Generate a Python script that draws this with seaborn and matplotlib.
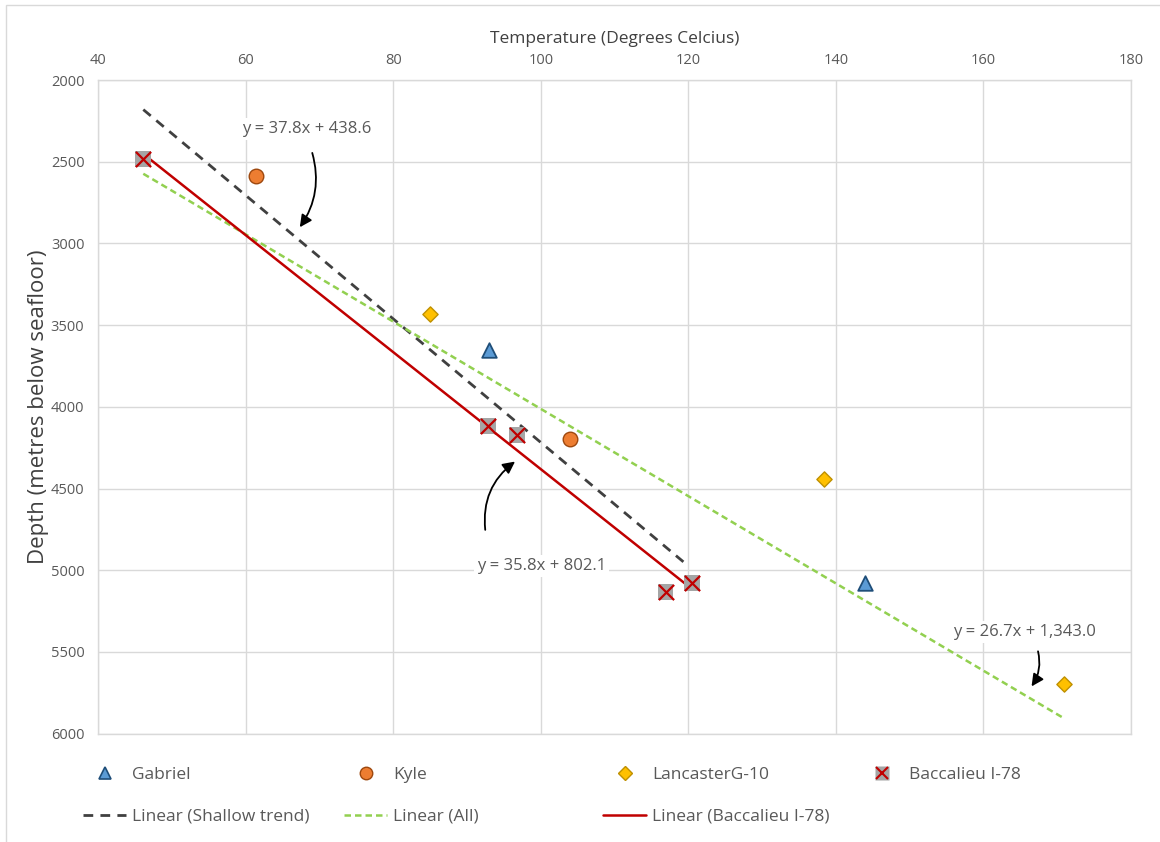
import numpy as np
import pandas as pd
import matplotlib
matplotlib.use("Agg")
import matplotlib.pyplot as plt
from matplotlib.lines import Line2D
from matplotlib.patches import Rectangle
import seaborn as sns

# Well measurements: temperature (deg C) vs depth below seafloor (m)
gabriel_temp = [92.9, 143.9]
gabriel_depth = [3650, 5080]

kyle_temp = [61.4, 104.0]
kyle_depth = [2590, 4200]

lancaster_temp = [84.9, 138.4, 170.9]
lancaster_depth = [3432, 4444, 5697]

baccalieu_temp = [46.1, 92.8, 96.8, 116.9, 120.45]
baccalieu_depth = [2485, 4116, 4173, 5131, 5076]

# Linear trend lines: slope, intercept, x-range
trend_names = ["Linear (Shallow trend)", "Linear (All)", "Linear (Baccalieu I-78)"]
trend_slopes = [37.8, 26.7, 35.8]
trend_intercepts = [438.6, 1343.0, 802.1]
trend_ranges = [[46.1, 119.6], [46.1, 170.9], [46.1, 120.45]]
trend_labels = ["y = 37.8x + 438.6", "y = 26.7x + 1,343.0", "y = 35.8x + 802.1"]

x_ticks = [40, 60, 80, 100, 120, 140, 160, 180]
y_ticks = [2000, 2500, 3000, 3500, 4000, 4500, 5000, 5500, 6000]

sns.set_theme(style="white")
plt.rcParams["font.family"] = ["Open Sans", "DejaVu Sans"]

W, H = 1160, 842
fig = plt.figure(figsize=(W / 100, H / 100), dpi=100)
ax = fig.add_axes([98.3 / W, 1 - 733.6 / H, (1131 - 98.3) / W, (733.6 - 80) / H])

grid_c = "#d9d9d9"
text_c = "#595959"

# trend lines
trend_styles = [
    dict(color="#404040", lw=2.0, dashes=(3.5, 2.6)),
    dict(color="#92d050", lw=1.8, dashes=(2.6, 1.6)),
    dict(color="#c00000", lw=1.8, dashes=None),
]
trend_handles = []
for name, m, b, rng, st in zip(trend_names, trend_slopes, trend_intercepts, trend_ranges, trend_styles):
    xs = np.array(rng)
    df = pd.DataFrame({"x": xs, "y": m * xs + b})
    sns.lineplot(data=df, x="x", y="y", ax=ax, color=st["color"], lw=st["lw"], zorder=3)
    line = ax.lines[-1]
    if st["dashes"] is not None:
        line.set_dashes(st["dashes"])
    trend_handles.append(Line2D([], [], color=st["color"], lw=st["lw"],
                                dashes=st["dashes"] if st["dashes"] else (None, None)))

# measurement markers
def scatter(xs, ys, **kw):
    sns.scatterplot(x=xs, y=ys, ax=ax, zorder=4, legend=False, **kw)

scatter(gabriel_temp, gabriel_depth, marker="^", s=110, color="#5b9bd5",
        edgecolor="#1f4e79", linewidth=1.3)
scatter(kyle_temp, kyle_depth, marker="o", s=110, color="#ed7d31",
        edgecolor="#9e480e", linewidth=1.0)
scatter(lancaster_temp, lancaster_depth, marker="D", s=60, color="#ffc000",
        edgecolor="#bf9000", linewidth=1.0)
scatter(baccalieu_temp, baccalieu_depth, marker="s", s=130, color="#a5a5a5",
        edgecolor="none", linewidth=0)
scatter(baccalieu_temp, baccalieu_depth, marker="x", s=120, color="#c00000",
        linewidth=1.6)

# axes styling
ax.set_xlim(40, 180)
ax.set_ylim(6000, 2000)
ax.set_xticks(x_ticks)
ax.set_yticks(y_ticks)
ax.xaxis.tick_top()
ax.xaxis.set_label_position("top")
ax.grid(True, color=grid_c, lw=1.0)
ax.set_axisbelow(True)
for sp in ax.spines.values():
    sp.set_color(grid_c)
    sp.set_linewidth(1.0)
ax.tick_params(axis="both", length=0, labelsize=10.5, labelcolor=text_c)
ax.tick_params(axis="x", pad=9)
ax.tick_params(axis="y", pad=10)
ax.set_xlabel("Temperature (Degrees Celcius)", fontsize=12.5, color="#404040", labelpad=7)
ax.set_ylabel("Depth (metres below seafloor)", fontsize=16, color="#404040", labelpad=1)

# equation labels with curved arrows
label_pos = [(68.3, 2300), (165.6, 5378), (100.1, 4975)]
arrow_tail = [(68.9, 2430), (167.3, 5480), (92.5, 4770)]
arrow_head = [(67.1, 2915), (166.3, 5725), (96.8, 4325)]
arrow_rad = [-0.25, -0.25, -0.3]
for txt, pos, tail, head, rad in zip(trend_labels, label_pos, arrow_tail, arrow_head, arrow_rad):
    ax.text(pos[0], pos[1], txt, fontsize=12, color=text_c, ha="center", va="center",
            zorder=5, bbox=dict(facecolor="white", edgecolor="none", pad=2))
    ax.annotate("", xy=head, xytext=tail, zorder=6,
                arrowprops=dict(arrowstyle="-|>,head_length=0.6,head_width=0.3",
                                color="black", lw=1.3,
                                connectionstyle=f"arc3,rad={rad}"))

# legend: four equal-width columns
bacc_handle = (Line2D([], [], marker="s", ls="none", ms=10, color="#a5a5a5", mec="none"),
               Line2D([], [], marker="x", ls="none", ms=9, color="#c00000", mew=1.5))
marker_handles = [
    Line2D([], [], marker="^", ls="none", ms=9, mfc="#5b9bd5", mec="#1f4e79", mew=1.2),
    Line2D([], [], marker="o", ls="none", ms=9, mfc="#ed7d31", mec="#9e480e", mew=1.0),
    Line2D([], [], marker="D", ls="none", ms=7, mfc="#ffc000", mec="#bf9000", mew=1.0),
    bacc_handle,
]
marker_labels = ["Gabriel", "Kyle", "LancasterG-10", "Baccalieu I-78"]
col_x = [83, 344, 603, 860]
for i in range(4):
    hs = [marker_handles[i]]
    ls = [marker_labels[i]]
    if i < 3:
        hs.append(trend_handles[i])
        ls.append(trend_names[i])
    fig.legend(hs, ls, loc="upper left", bbox_to_anchor=(col_x[i] / W, 1 - 766.5 / H),
               frameon=False, fontsize=12.5, labelcolor=text_c, handlelength=2.5,
               handletextpad=0.33, labelspacing=1.5, borderpad=0, borderaxespad=0)

# chart area border
fig.patches.append(Rectangle((6 / W, -0.1), 1.2, 1 - 5 / H + 0.1, transform=fig.transFigure,
                             fill=False, edgecolor=grid_c, lw=1.0))

fig.savefig("out.png", dpi=100, facecolor="white")
